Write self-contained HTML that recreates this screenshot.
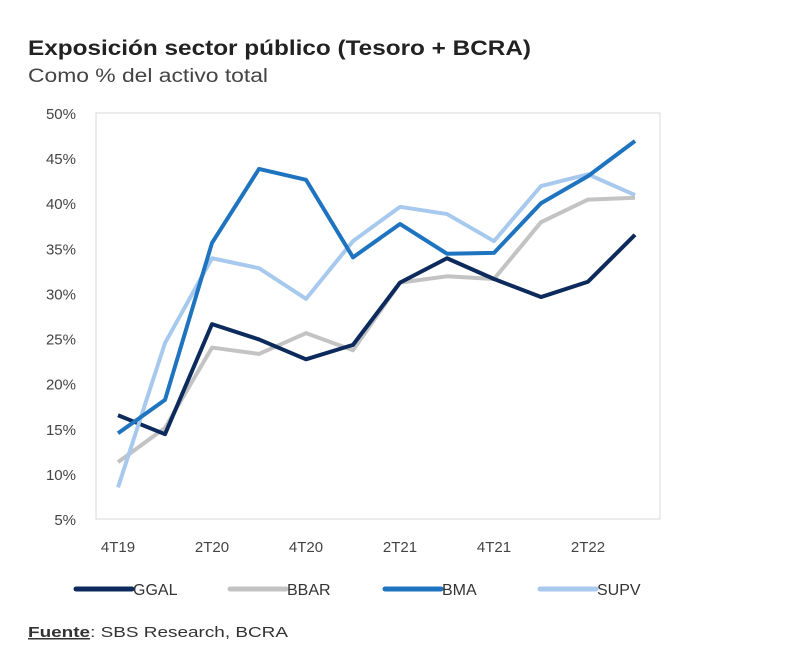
<!DOCTYPE html>
<html><head><meta charset="utf-8">
<style>
body{margin:0;background:#fff;width:800px;height:657px;overflow:hidden;font-family:"Liberation Sans",sans-serif;}
</style></head>
<body>
<svg id="chart" width="800" height="657">
<text x="28" y="55" font-size="21" font-weight="bold" fill="#222" textLength="503" lengthAdjust="spacingAndGlyphs">Exposición sector público (Tesoro + BCRA)</text>
<text x="28" y="82" font-size="19" fill="#444" textLength="240" lengthAdjust="spacingAndGlyphs">Como % del activo total</text>
<rect x="96" y="113" width="564" height="406" fill="none" stroke="#d9d9d9"/>
<g id="yt"></g><g id="xt"></g><g id="series"></g><g id="legend"></g>
<text x="28" y="637" font-size="15" fill="#333" textLength="260" lengthAdjust="spacingAndGlyphs"><tspan font-weight="bold" text-decoration="underline">Fuente</tspan>: SBS Research, BCRA</text>
</svg>
<script>
const categories=["4T19","1T20","2T20","3T20","4T20","1T21","2T21","3T21","4T21","1T22","2T22","3T22"];
const seriesNames=["GGAL","BBAR","BMA","SUPV"];
const ggal=[16.5,14.4,26.6,24.9,22.7,24.3,31.2,33.9,31.6,29.6,31.3,36.5];
const bbar=[11.3,15.1,24.0,23.3,25.6,23.7,31.2,31.9,31.6,37.9,40.4,40.6];
const bma=[14.5,18.2,35.6,43.8,42.6,34.0,37.7,34.4,34.5,40.0,43.0,46.9];
const supv=[8.5,24.5,33.9,32.8,29.4,35.8,39.6,38.8,35.8,41.9,43.2,40.9];
const yTicks=[5,10,15,20,25,30,35,40,45,50];
const xLabels=["4T19","2T20","4T20","2T21","4T21","2T22"];
const colors=["#0c2a5b","#c3c3c3","#1f74c0","#a8c9ee"];
const NS="http://www.w3.org/2000/svg";
const y=v=>519-(v-5)*406/45;
const x=i=>118+i*47;
function mk(t,a,p){const e=document.createElementNS(NS,t);for(const k in a)e.setAttribute(k,a[k]);p.appendChild(e);return e;}
const yt=document.getElementById('yt');
yTicks.forEach(v=>{const t=mk('text',{x:76,y:y(v)+6,'font-size':15,fill:'#444','text-anchor':'end'},yt);t.textContent=v+'%';

});
const xt=document.getElementById('xt');
xLabels.forEach(l=>{const i=categories.indexOf(l);const t=mk('text',{x:x(i),y:552,'font-size':15,fill:'#444','text-anchor':'middle'},xt);t.textContent=l;

});
const data=[ggal,bbar,bma,supv];
const sg=document.getElementById('series');
[1,0,3,2].forEach(k=>{const p=mk('polyline',{points:data[k].map((v,i)=>x(i)+','+y(v)).join(' '),fill:'none',stroke:colors[k],'stroke-width':4,'stroke-linejoin':'round'},sg);

});
const lg=document.getElementById('legend');
const lx=[76,230,385,540];
seriesNames.forEach((n,k)=>{const g=mk('g',{},lg);


mk('line',{x1:lx[k],y1:589,x2:lx[k]+56,y2:589,stroke:colors[k],'stroke-width':5,'stroke-linecap':'round'},g);
const t=mk('text',{x:lx[k]+57,y:595,'font-size':16,fill:'#333'},g);t.textContent=n;});
</script>
</body></html>
